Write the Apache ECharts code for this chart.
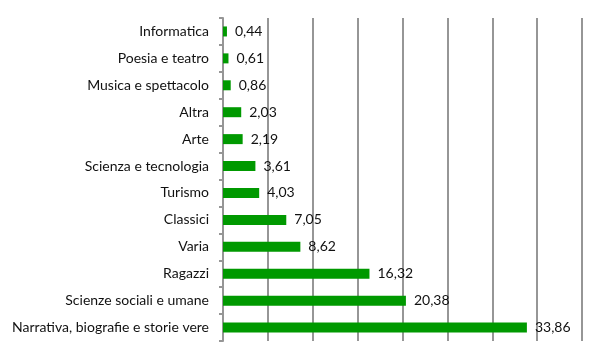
<!DOCTYPE html>
<html><head><meta charset="utf-8">
<script src="https://cdn.jsdelivr.net/npm/echarts@6/dist/echarts.min.js"></script>
<style>html,body{margin:0;padding:0;background:#fff}#c{width:600px;height:360px}</style>
</head><body><div id="c"></div>
<script>
const categories = ["Informatica","Poesia e teatro","Musica e spettacolo","Altra","Arte","Scienza e tecnologia","Turismo","Classici","Varia","Ragazzi","Scienze sociali e umane","Narrativa, biografie e storie vere"];
const values = [0.44,0.61,0.86,2.03,2.19,3.61,4.03,7.05,8.62,16.32,20.38,33.86];
const FONT = "Lato";
const chart = echarts.init(document.getElementById('c'), null, {renderer:'canvas'});
chart.setOption({
  animation:false,
  grid:{left:223,right:18,top:18,bottom:19,containLabel:false},
  xAxis:{type:'value',min:0,max:40,interval:5,
    axisLine:{show:false},axisTick:{show:false},axisLabel:{show:false},
    splitLine:{show:true,lineStyle:{color:'#969696',width:2}}},
  yAxis:{type:'category',data:categories,inverse:true,
    axisLine:{show:true,lineStyle:{color:'#969696',width:2}},
    axisTick:{show:true,length:4,lineStyle:{color:'#969696',width:2}},
    axisLabel:{margin:14,color:'#111',fontFamily:FONT,fontSize:14}},
  series:[{type:'bar',data:values,barWidth:10,itemStyle:{color:'#009900'},
    label:{show:true,position:'right',distance:8,color:'#111',fontFamily:FONT,fontSize:14,
      formatter:p=>p.value.toFixed(2).replace('.',',')}}]
});
</script></body></html>
